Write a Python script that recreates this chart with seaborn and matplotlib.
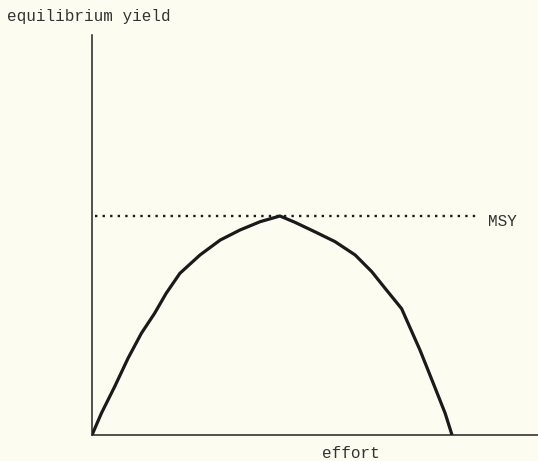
import matplotlib
matplotlib.use('Agg')
import matplotlib.pyplot as plt
import seaborn as sns
import pandas as pd

# yield curve (effort scaled so the curve ends at 1, MSY = 1)
effort = [0.0, 0.026, 0.063, 0.100, 0.137, 0.174, 0.206, 0.244, 0.300,
          0.356, 0.411, 0.467, 0.522, 0.564, 0.619, 0.675, 0.731, 0.777,
          0.814, 0.860, 0.874, 0.911, 0.948, 0.981, 1.0]
eq_yield = [0.0, 0.099, 0.221, 0.350, 0.464, 0.556, 0.647, 0.738, 0.822,
            0.890, 0.936, 0.974, 1.0, 0.971, 0.928, 0.883, 0.822, 0.746,
            0.670, 0.577, 0.525, 0.388, 0.236, 0.099, 0.0]
msy_level = 1.0
msy_line_x = [0.008, 1.07]
y_label = 'equilibrium yield'
x_label = 'effort'
msy_label = 'MSY'

bg = '#fcfcf1'
ink = '#1a1a1a'


def plot_data(out_path):
    sns.set_style('white')
    plt.rcParams['font.family'] = ['Liberation Mono', 'DejaVu Sans Mono']
    fig = plt.figure(figsize=(5.38, 4.61), dpi=100, facecolor=bg)
    ax = fig.add_axes([92 / 538, 26 / 461, 446 / 538, 400 / 461])
    ax.set_facecolor(bg)

    df = pd.DataFrame({'effort': effort, 'yield': eq_yield})
    sns.lineplot(data=df, x='effort', y='yield', ax=ax, color=ink,
                 linewidth=2.3, sort=False, solid_capstyle='round',
                 solid_joinstyle='round')
    ax.plot(msy_line_x, [msy_level, msy_level], color=ink, linewidth=1.7,
            linestyle=(0, (1, 2.2)))
    ax.text(1.10, msy_level - 0.027, msy_label, fontsize=11.5, color='#333333',
            va='center', ha='left')

    ax.set_xlim(0, 446 / 360)
    ax.set_ylim(0, 400 / 219)
    ax.set_xticks([])
    ax.set_yticks([])
    ax.set_xlabel('')
    ax.set_ylabel('')
    for s in ['top', 'right']:
        ax.spines[s].set_visible(False)
    for s in ['left', 'bottom']:
        ax.spines[s].set_color('#222222')
        ax.spines[s].set_linewidth(1.1)

    fig.text(7 / 538, 1 - 16 / 461, y_label, fontsize=11.5, color='#333333',
             va='center', ha='left')
    fig.text(351 / 538, 1 - 453 / 461, x_label, fontsize=11.5, color='#333333',
             va='center', ha='center')

    fig.savefig(out_path, dpi=100, facecolor=bg)
    plt.close(fig)


def main():
    plot_data('out.png')


if __name__ == '__main__':
    main()
